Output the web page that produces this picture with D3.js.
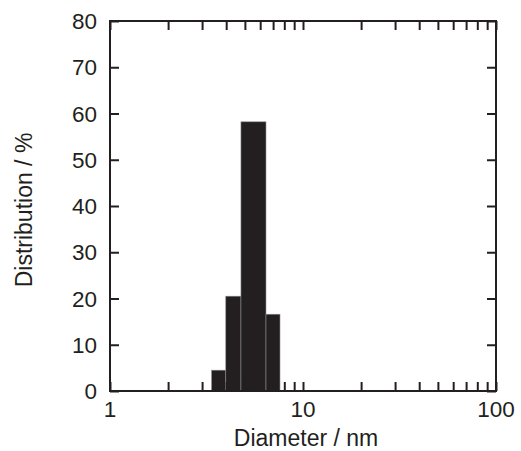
<!DOCTYPE html>
<html>
<head>
<meta charset="utf-8">
<script src="https://cdn.jsdelivr.net/npm/d3@7"></script>
<style>
  body { margin: 0; background: #fff; }
  text { font-family: "Liberation Sans", Arial, sans-serif; fill: #231f20; }
</style>
</head>
<body>
<div id="chart"></div>
<script>
// histogram bins (diameter in nm, log spaced) and share in %
var binStart = [3.36, 3.98, 4.77, 6.43];
var binEnd   = [3.98, 4.77, 6.43, 7.60];
var share    = [4.5, 20.5, 58.2, 16.6];

var xTicks = [1, 10, 100];
var yTicks = [0, 10, 20, 30, 40, 50, 60, 70, 80];

var W = 521, H = 451;
var margin = {left: 110, right: 25, top: 21, bottom: 60};
var TICK = 9;
var INK = "#231f20";
var FONT = "22.5px";

var svg = d3.select("#chart").append("svg")
	.attr("width", W)
	.attr("height", H);

var x = d3.scaleLog().domain([1, 100]).range([margin.left, W - margin.right]);
var y = d3.scaleLinear().domain([0, 80]).range([H - margin.bottom, margin.top]);

// minor ticks 2..9 in each decade plus the majors
var allX = [];
[1, 10].forEach(function(d){
	for (var k = 1; k <= 9; k++) allX.push(d * k);
});
allX.push(100);

//BARS
svg.append("g").selectAll("rect")
	.data(share)
	.enter().append("rect")
	.attr("x", function(d, i){ return x(binStart[i]); })
	.attr("width", function(d, i){ return x(binEnd[i]) - x(binStart[i]); })
	.attr("y", function(d){ return y(d); })
	.attr("height", function(d){ return y(0) - y(d); })
	.attr("fill", INK)
	.attr("stroke", "#8a8a8a")
	.attr("stroke-width", 0.6);

//AXES (ticks point inward)
function inward(g){
	g.select(".domain").remove();
	g.selectAll("line").attr("stroke", INK).attr("stroke-width", 2);
}

svg.append("g")
	.attr("transform", "translate(0," + y(0) + ")")
	.call(d3.axisBottom(x).tickValues(allX).tickSize(-TICK).tickFormat(""))
	.call(inward);

svg.append("g")
	.attr("transform", "translate(0," + y(80) + ")")
	.call(d3.axisTop(x).tickValues(allX).tickSize(-TICK).tickFormat(""))
	.call(inward);

svg.append("g")
	.attr("transform", "translate(" + x(1) + ",0)")
	.call(d3.axisLeft(y).tickValues(yTicks).tickSize(-TICK).tickFormat(""))
	.call(inward);

svg.append("g")
	.attr("transform", "translate(" + x(100) + ",0)")
	.call(d3.axisRight(y).tickValues(yTicks).tickSize(-TICK).tickFormat(""))
	.call(inward);

//FRAME
svg.append("rect")
	.attr("x", x(1))
	.attr("y", y(80))
	.attr("width", x(100) - x(1))
	.attr("height", y(0) - y(80))
	.attr("fill", "none")
	.attr("stroke", INK)
	.attr("stroke-width", 2);

//TICK LABELS
svg.append("g").selectAll("text")
	.data(yTicks)
	.enter().append("text")
	.attr("x", x(1) - 13)
	.attr("y", function(d){ return y(d); })
	.attr("dy", "0.36em")
	.attr("text-anchor", "end")
	.style("font-size", FONT)
	.text(function(d){ return d; });

svg.append("g").selectAll("text")
	.data(xTicks)
	.enter().append("text")
	.attr("x", function(d){ return x(d); })
	.attr("y", y(0) + 26)
	.attr("text-anchor", "middle")
	.style("font-size", FONT)
	.text(function(d){ return d; });

//AXIS TITLES
svg.append("text")
	.attr("x", (x(1) + x(100)) / 2 + 3)
	.attr("y", H - 5)
	.attr("text-anchor", "middle")
	.style("font-size", "23px")
	.text("Diameter / nm");

svg.append("text")
	.attr("transform", "translate(32," + ((y(0) + y(80)) / 2 + 4) + ") rotate(-90)")
	.attr("text-anchor", "middle")
	.style("font-size", "23px")
	.text("Distribution / %");
</script>
</body>
</html>
